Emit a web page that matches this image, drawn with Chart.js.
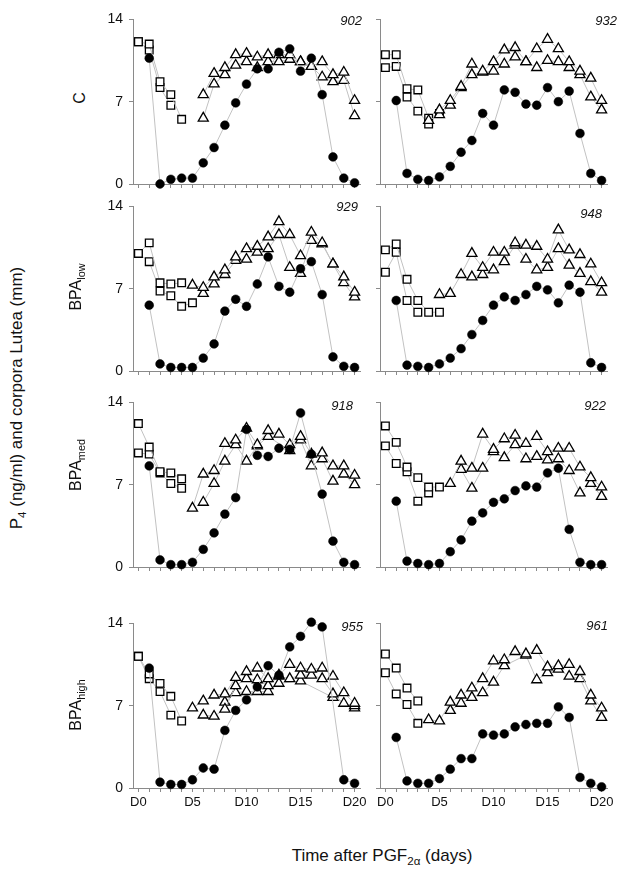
<!DOCTYPE html>
<html>
<head>
<meta charset="utf-8">
<script src="https://cdn.jsdelivr.net/npm/chart.js@4.4.0/dist/chart.umd.min.js"></script>
<style>
  body { margin: 0; background: #fff; }
  #fig { position: relative; width: 624px; height: 876px; font-family: Arial, "Liberation Sans", sans-serif; color: #111; overflow: hidden; }
  #fig canvas { position: absolute; }
  .num { position: absolute; font-style: italic; font-size: 13px; text-align: right; width: 40px; }
  .rot { position: absolute; transform: translate(-50%, -50%) rotate(-90deg); white-space: nowrap; font-size: 16px; }
  .title { position: absolute; white-space: nowrap; font-size: 17px; transform: translateX(-50%); }
  sub { font-size: 0.68em; vertical-align: -0.35em; line-height: 0; }
</style>
</head>
<body>
<div id="fig"></div>
<script>
// ---- data (days after PGF2a, 0..20) ----
const days = [0, 1, 2, 3, 4, 5, 6, 7, 8, 9, 10, 11, 12, 13, 14, 15, 16, 17, 18, 19, 20];
const yTicks = [0, 7, 14];
const xLabelDays = [0, 5, 10, 15, 20];
const rowLabels = ['C', 'BPA<sub>low</sub>', 'BPA<sub>med</sub>', 'BPA<sub>high</sub>'];

const _ = null;
// 902
const p4_902   = [_, 10.7, 0.0, 0.4, 0.5, 0.5, 1.8, 3.1, 5.0, 6.9, 8.5, 9.8, 9.8, 11.2, 11.5, 9.6, 10.7, 7.6, 2.3, 0.5, 0.1];
const sqA_902  = [12.1, 11.9, 8.7, 7.6, 5.5];
const sqB_902  = [12.1, 11.4, 8.2, 6.7];
const triA_902 = [_, _, _, _, _, _, 7.6, 9.4, 9.9, 11.0, 11.1, 10.8, 11.0, 11.0, 11.0, 10.4, 10.0, 10.4, 9.3, 9.5, 7.1];
const triB_902 = [_, _, _, _, _, _, 5.6, 8.5, 9.3, 10.1, 10.4, 9.9, 10.4, 10.4, 10.6, 10.4, 10.0, 9.1, 8.7, 8.8, 5.8];
// 932
const p4_932   = [_, 7.1, 0.9, 0.4, 0.3, 0.6, 1.5, 2.7, 3.7, 6.0, 5.0, 8.0, 7.8, 6.8, 6.7, 8.2, 7.0, 7.9, 4.3, 0.9, 0.3];
const sqA_932  = [11.0, 11.0, 8.1, 8.0, 5.6, 6.0];
const sqB_932  = [9.9, 10.0, 7.4, 6.2, 5.1];
const triA_932 = [_, _, _, _, _, 6.3, 7.1, 8.3, 10.2, 9.6, 10.4, 11.4, 11.6, 10.4, 11.5, 12.3, 11.5, 10.4, 9.6, 9.0, 7.1];
const triB_932 = [_, _, _, _, 5.4, 5.9, 6.7, 8.2, 9.3, 9.5, 9.6, 10.2, 10.8, 10.4, 9.9, 10.5, 10.4, 9.9, 9.3, 7.4, 6.3];
// 929
const p4_929   = [_, 5.6, 0.6, 0.3, 0.3, 0.3, 1.1, 2.3, 5.1, 6.1, 5.5, 7.4, 9.7, 7.2, 6.7, 8.7, 9.3, 6.5, 1.2, 0.4, 0.3];
const sqA_929  = [10.0, 10.9, 7.5, 7.4, 7.5];
const sqB_929  = [10.0, 9.3, 6.8, 6.4, 5.5, 5.8];
const triA_929 = [_, _, _, _, _, 7.3, 7.1, 8.0, 8.6, 9.7, 10.4, 10.6, 11.4, 12.7, 11.6, 9.8, 11.8, 10.9, 9.1, 8.0, 6.7];
const triB_929 = [_, _, _, _, _, _, 6.6, 7.4, 8.2, 9.4, 9.5, 10.1, 10.4, 11.6, 8.8, 8.3, 11.1, 10.8, 9.1, 7.5, 6.3];
// 948
const p4_948   = [_, 6.0, 0.5, 0.4, 0.3, 0.6, 1.1, 1.9, 3.1, 4.3, 5.6, 6.3, 6.0, 6.5, 7.2, 6.9, 5.8, 7.3, 6.7, 0.7, 0.3];
const sqA_948  = [10.3, 10.8, 7.8, 6.0, 5.0, 5.0];
const sqB_948  = [8.4, 10.1, 6.0, 5.0];
const triA_948 = [_, _, _, _, _, 6.5, 6.6, 8.2, 10.0, 8.8, 10.1, 10.1, 10.9, 10.7, 10.6, 9.5, 12.0, 10.3, 9.9, 9.1, 7.5];
const triB_948 = [_, _, _, _, _, _, _, _, 8.0, 8.2, 8.6, 9.3, 10.7, 9.5, 8.6, 8.8, 10.4, 9.0, 8.3, 7.6, 6.7];
// 918
const p4_918   = [_, 8.6, 0.6, 0.2, 0.2, 0.4, 1.5, 2.9, 4.5, 5.9, 11.7, 9.5, 9.4, 10.1, 10.0, 13.1, 9.6, 6.2, 2.2, 0.4, 0.2];
const sqA_918  = [12.2, 10.2, 8.1, 8.0, 7.5];
const sqB_918  = [9.7, 9.6, 8.0, 7.1, 6.7];
const triA_918 = [_, _, _, _, _, 5.0, 7.9, 8.2, 10.5, 10.8, 11.8, 10.4, 11.6, 11.3, 10.4, 11.1, 9.6, 9.7, 8.6, 8.6, 7.8];
const triB_918 = [_, _, _, _, _, _, 5.5, 7.1, 9.0, 10.4, 9.0, 10.3, 11.1, _, 9.9, 10.8, 8.6, 9.2, 7.3, 7.9, 7.0];
// 922
const p4_922   = [_, 5.6, 0.5, 0.3, 0.2, 0.3, 1.3, 2.3, 3.9, 4.6, 5.5, 5.8, 6.5, 6.9, 6.8, 8.0, 8.4, 3.2, 0.4, 0.2, 0.2];
const sqA_922  = [12.0, 10.6, 8.5, 7.6, 6.8, 6.8];
const sqB_922  = [10.3, 8.8, 8.1, 5.6, 6.3];
const triA_922 = [_, _, _, _, _, _, 7.1, 9.0, 8.4, 11.3, 10.0, 10.9, 11.2, 10.5, 11.1, 9.8, 10.1, 10.1, 8.5, 7.6, 6.8];
const triB_922 = [_, _, _, _, _, _, _, 8.3, 6.7, 8.4, 9.8, 9.3, 10.4, 9.2, 9.4, 9.1, 9.2, 8.2, 6.3, 7.1, 6.0];
// 955
const p4_955   = [_, 10.2, 0.5, 0.3, 0.3, 0.7, 1.7, 1.6, 4.9, 6.6, 7.5, 8.6, 10.4, 9.6, 12.0, 12.9, 14.1, 13.7, _, 0.7, 0.4];
const sqA_955  = [11.2, 9.7, 8.9, 7.8, 5.7];
const sqB_955  = [11.2, 9.3, 8.2, 6.2];
const triA_955 = [_, _, _, _, _, 6.8, 7.4, 7.9, 8.0, 9.4, 9.9, 10.2, 9.3, 9.6, 10.5, 10.2, 10.1, 10.2, 9.5, 8.1, 7.2];
const triB_955 = [_, _, _, _, _, _, 6.2, 6.1, 6.7, 8.7, 9.3, 9.2, 8.7, 9.5, 9.3, 9.6, 9.6, 9.3, 8.0, 7.2, 7.0];
const triC_955 = [_, _, _, _, _, _, _, _, 7.3, 8.1, 8.2, 8.2, 8.2, 8.9, _, 9.1, _, _, 7.7, _, 6.8];
// 961
const p4_961   = [_, 4.3, 0.6, 0.4, 0.4, 0.8, 1.6, 2.5, 2.5, 4.6, 4.5, 4.6, 5.2, 5.4, 5.5, 5.5, 6.9, 6.0, 0.9, 0.4, 0.1];
const sqA_961  = [11.4, 10.2, 8.5, 7.4];
const sqB_961  = [9.8, 8.0, 7.1, 5.5];
const triA_961 = [_, _, _, _, 5.8, 5.7, 7.3, 7.9, 8.5, 9.3, 10.8, 10.9, 11.6, 11.4, 11.7, 10.3, 10.4, 10.5, 9.9, 7.9, 6.8];
const triB_961 = [_, _, _, _, _, _, 6.6, 7.2, 7.7, 8.1, 9.0, 10.4, _, 11.3, 9.2, 9.8, 10.1, 9.5, 9.3, 7.4, 6.0];

const panels = [
  { id: '902', p4: p4_902, sq: [sqA_902, sqB_902], tri: [triA_902, triB_902] },
  { id: '932', p4: p4_932, sq: [sqA_932, sqB_932], tri: [triA_932, triB_932] },
  { id: '929', p4: p4_929, sq: [sqA_929, sqB_929], tri: [triA_929, triB_929] },
  { id: '948', p4: p4_948, sq: [sqA_948, sqB_948], tri: [triA_948, triB_948] },
  { id: '918', p4: p4_918, sq: [sqA_918, sqB_918], tri: [triA_918, triB_918] },
  { id: '922', p4: p4_922, sq: [sqA_922, sqB_922], tri: [triA_922, triB_922] },
  { id: '955', p4: p4_955, sq: [sqA_955, sqB_955], tri: [triA_955, triB_955, triC_955] },
  { id: '961', p4: p4_961, sq: [sqA_961, sqB_961], tri: [triA_961, triB_961] }
];

// ---- layout ----
const rowTops = [13, 200, 396, 617];   // top of plot area per row
const colLefts = [133, 380];           // left of plot area per column
const AREA_W = 227, AREA_H = 171, Y_W = 40, X_H = 22, PAD_T = 8, PAD_R = 10;
const numPos = [[362, 13], [617, 13], [358, 199], [602, 206], [353, 398], [606, 398], [363, 619], [608, 618]];
const rowLabelPos = [[80, 98], [76, 287], [76, 465], [76, 705]];

const fig = document.getElementById('fig');
const lineGray = '#c2c2c2';
const axisGray = '#8a8a8a';

function toXY(vals) {
  const pts = [];
  vals.forEach((v, i) => { if (v !== null) pts.push({ x: days[i], y: v }); });
  return pts;
}

function series(vals, style) {
  const base = {
    data: toXY(vals),
    borderColor: lineGray,
    borderWidth: 1,
    pointBorderColor: '#000',
    clip: false,
    tension: 0
  };
  if (style === 'circle') {
    return Object.assign(base, { pointStyle: 'circle', pointRadius: 4.4, pointBackgroundColor: '#000', pointBorderWidth: 0.5 });
  }
  if (style === 'rect') {
    return Object.assign(base, { pointStyle: 'rect', pointRadius: 5.4, pointBackgroundColor: '#fff', pointBorderWidth: 1.3 });
  }
  return Object.assign(base, { pointStyle: 'triangle', pointRadius: 5.8, pointBackgroundColor: '#fff', pointBorderWidth: 1.3 });
}

panels.forEach((p, k) => {
  const row = Math.floor(k / 2), col = k % 2;
  const bottom = row === 3, leftCol = col === 0;

  const cv = document.createElement('canvas');
  const w = Y_W + AREA_W + PAD_R, h = PAD_T + AREA_H + X_H;
  cv.width = w; cv.height = h;
  cv.style.width = w + 'px'; cv.style.height = h + 'px';
  cv.style.left = (colLefts[col] - Y_W) + 'px';
  cv.style.top = (rowTops[row] - PAD_T) + 'px';
  fig.appendChild(cv);

  const ds = [series(p.p4, 'circle')];
  p.tri.forEach(t => ds.push(series(t, 'triangle')));
  p.sq.forEach(s => ds.push(series(s, 'rect')));

  new Chart(cv.getContext('2d'), {
    type: 'line',
    data: { datasets: ds },
    options: {
      responsive: false,
      animation: false,
      events: [],
      layout: { padding: { top: PAD_T, right: PAD_R, left: 0, bottom: 0 } },
      plugins: { legend: { display: false }, tooltip: { enabled: false } },
      scales: {
        x: {
          type: 'linear', min: -0.5, max: 20.5,
          afterBuildTicks: s => { s.ticks = days.map(d => ({ value: d })); },
          afterFit: s => { s.height = X_H; },
          ticks: {
            autoSkip: false, maxRotation: 0, padding: 3,
            color: '#111', font: { family: 'Arial', size: 13 },
            callback: v => (bottom && xLabelDays.includes(v)) ? 'D' + v : ''
          },
          grid: { drawOnChartArea: false, drawTicks: true, tickLength: 4, color: axisGray },
          border: { color: axisGray, width: 1 }
        },
        y: {
          min: 0, max: 14,
          afterBuildTicks: s => { s.ticks = yTicks.map(v => ({ value: v })); },
          afterFit: s => { s.width = Y_W; },
          ticks: {
            padding: 6, color: '#111', font: { family: 'Arial', size: 14 },
            callback: v => leftCol ? String(v) : ''
          },
          grid: { drawOnChartArea: false, drawTicks: true, tickLength: 4, color: axisGray },
          border: { color: axisGray, width: 1 }
        }
      }
    }
  });

  const num = document.createElement('div');
  num.className = 'num';
  num.textContent = p.id;
  num.style.left = (numPos[k][0] - 40) + 'px';
  num.style.top = numPos[k][1] + 'px';
  fig.appendChild(num);
});

rowLabels.forEach((t, i) => {
  const d = document.createElement('div');
  d.className = 'rot';
  d.innerHTML = t;
  d.style.left = rowLabelPos[i][0] + 'px';
  d.style.top = rowLabelPos[i][1] + 'px';
  fig.appendChild(d);
});

const yTitle = document.createElement('div');
yTitle.className = 'rot';
yTitle.style.fontSize = '17px';
yTitle.innerHTML = 'P<sub>4</sub> (ng/ml) and corpora Lutea (mm)';
yTitle.style.left = '17px';
yTitle.style.top = '398px';
fig.appendChild(yTitle);

const xTitle = document.createElement('div');
xTitle.className = 'title';
xTitle.innerHTML = 'Time after PGF<sub>2α</sub> (days)';
xTitle.style.left = '382px';
xTitle.style.top = '846px';
fig.appendChild(xTitle);
</script>
</body>
</html>
